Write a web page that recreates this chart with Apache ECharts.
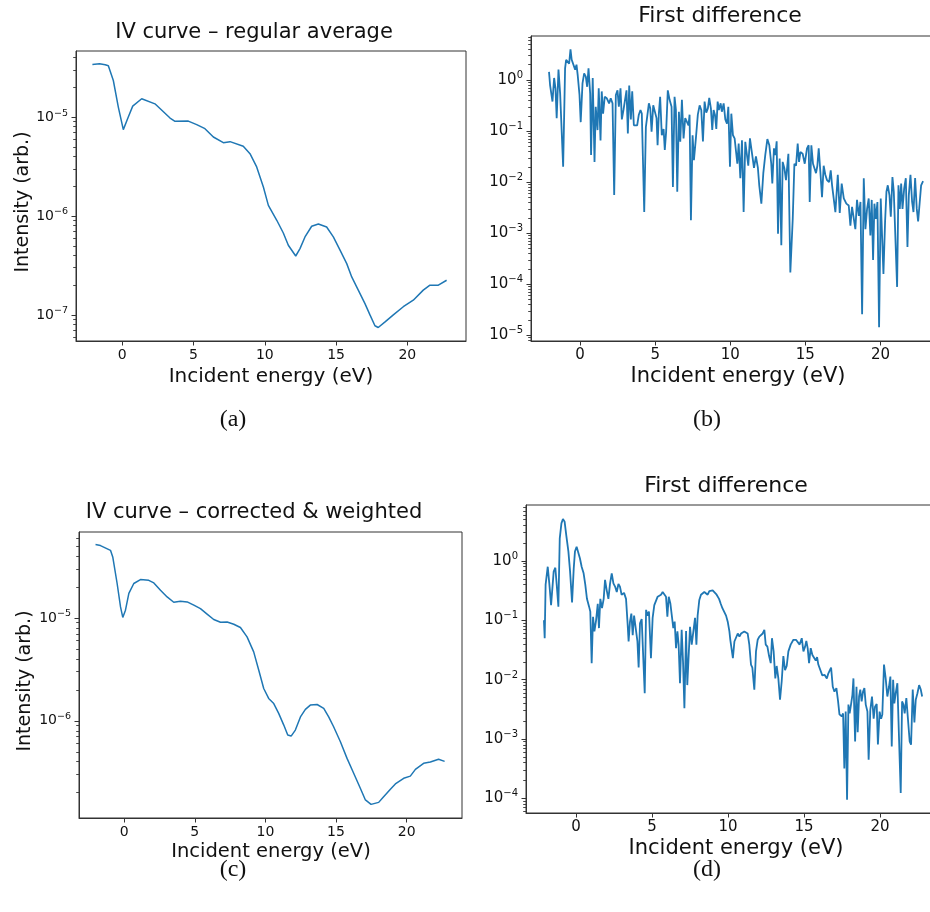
<!DOCTYPE html>
<html>
<head>
<meta charset="utf-8">
<script src="https://cdn.jsdelivr.net/npm/echarts@6/dist/echarts.min.js"></script>
<style>html,body{margin:0;padding:0;background:#fff;}#c{width:930px;height:912px;}</style>
</head>
<body>
<div id="c"></div>
<script>
// ---- Panel (a): IV curve – regular average ----
const energyA = [-2.10,-1.60,-1.20,-0.98,-0.63,-0.28,0.07,0.42,0.73,1.36,2.29,3.35,3.70,4.63,5.22,5.80,6.39,7.09,7.56,8.49,8.96,9.43,9.90,10.25,10.84,11.30,11.65,12.17,12.47,12.82,13.29,13.76,14.34,14.81,15.28,15.75,16.10,16.56,17.03,17.38,17.73,17.96,18.44,19.02,19.72,20.42,21.12,21.59,22.18,22.76];
const intensityA = [3.40e-5,3.45e-5,3.38e-5,3.30e-5,2.34e-5,1.26e-5,7.46e-6,1.0e-5,1.29e-5,1.53e-5,1.36e-5,9.77e-6,9.05e-6,9.1e-6,8.38e-6,7.63e-6,6.28e-6,5.51e-6,5.64e-6,5.06e-6,4.26e-6,3.13e-6,1.96e-6,1.28e-6,9.05e-7,6.73e-7,5.06e-7,3.94e-7,4.68e-7,6.14e-7,7.87e-7,8.30e-7,7.74e-7,6.14e-7,4.51e-7,3.30e-7,2.42e-7,1.78e-7,1.30e-7,1.0e-7,7.77e-8,7.46e-8,8.5e-8,1.0e-7,1.21e-7,1.41e-7,1.78e-7,2.0e-7,2.0e-7,2.24e-7];

// ---- Panel (b): First difference of (a) ----
const energyB = [-2.07,-2.00,-1.84,-1.73,-1.64,-1.56,-1.44,-1.33,-1.22,-1.13,-1.00,-0.93,-0.82,-0.73,-0.64,-0.56,-0.44,-0.33,-0.24,-0.16,-0.04,0.04,0.16,0.27,0.38,0.47,0.56,0.67,0.73,0.84,0.96,1.04,1.16,1.24,1.36,1.44,1.53,1.64,1.78,1.93,2.04,2.16,2.27,2.38,2.49,2.58,2.69,2.78,2.89,3.00,3.09,3.18,3.27,3.38,3.47,3.58,3.69,3.80,3.91,4.02,4.11,4.27,4.38,4.49,4.58,4.67,4.76,4.87,4.98,5.09,5.16,5.24,5.33,5.44,5.56,5.64,5.73,5.84,5.96,6.09,6.18,6.29,6.38,6.47,6.58,6.67,6.78,6.89,7.00,7.11,7.22,7.29,7.38,7.49,7.58,7.71,7.84,7.96,8.07,8.18,8.29,8.40,8.51,8.60,8.71,8.80,8.89,8.98,9.07,9.16,9.24,9.36,9.44,9.56,9.67,9.78,9.87,9.98,10.07,10.18,10.29,10.38,10.47,10.56,10.67,10.78,10.89,11.00,11.11,11.20,11.31,11.44,11.58,11.71,11.84,11.93,12.07,12.20,12.33,12.47,12.60,12.73,12.80,12.91,13.00,13.09,13.18,13.29,13.40,13.49,13.60,13.71,13.87,14.00,14.16,14.27,14.38,14.49,14.58,14.67,14.82,14.96,15.11,15.22,15.29,15.40,15.51,15.62,15.71,15.80,15.89,16.00,16.11,16.22,16.33,16.44,16.58,16.69,16.78,16.89,17.00,17.16,17.29,17.42,17.56,17.73,17.89,18.00,18.11,18.22,18.33,18.44,18.56,18.67,18.78,18.89,19.00,19.11,19.22,19.33,19.42,19.51,19.60,19.69,19.80,19.91,20.02,20.09,20.20,20.31,20.40,20.49,20.60,20.69,20.80,20.89,21.00,21.11,21.20,21.29,21.38,21.47,21.58,21.69,21.80,21.89,22.00,22.11,22.20,22.31,22.42,22.51,22.62,22.71,22.84];
const diffB = [1.45,0.80,0.38,1.1,0.69,0.18,1.6,0.55,0.52,0.020,1.7,2.5,2.6,2.1,4.0,2.5,2.6,1.6,2.0,1.25,0.51,0.15,0.86,1.35,1.17,0.74,1.7,0.55,0.034,1.1,0.025,0.30,0.105,0.69,0.066,0.60,0.22,0.47,0.44,0.35,0.44,0.35,0.0056,0.51,0.63,0.30,0.69,0.17,0.26,0.28,0.63,0.09,0.78,0.17,0.60,0.13,0.13,0.13,0.21,0.26,0.22,0.0026,0.12,0.12,0.35,0.28,0.098,0.32,0.35,0.18,0.053,0.21,0.47,0.083,0.11,0.043,0.098,0.63,0.41,0.30,0.0081,0.47,0.26,0.0065,0.24,0.062,0.41,0.072,0.18,0.19,0.13,0.21,0.0018,0.083,0.027,0.072,0.21,0.32,0.26,0.063,0.38,0.23,0.28,0.45,0.28,0.105,0.26,0.21,0.11,0.38,0.26,0.35,0.24,0.35,0.17,0.14,0.30,0.020,0.22,0.083,0.072,0.078,0.023,0.057,0.012,0.066,0.0026,0.062,0.066,0.021,0.072,0.070,0.019,0.032,0.019,0.0087,0.0038,0.015,0.034,0.070,0.053,0.023,0.0094,0.046,0.034,0.063,0.00098,0.029,0.00058,0.025,0.019,0.011,0.036,0.00017,0.0019,0.023,0.021,0.057,0.025,0.039,0.036,0.023,0.046,0.053,0.0041,0.053,0.023,0.023,0.015,0.021,0.046,0.016,0.0051,0.021,0.014,0.011,0.010,0.017,0.0087,0.0094,0.0026,0.014,0.0025,0.0094,0.0048,0.0038,0.0035,0.0014,0.0033,0.0035,0.0012,0.0045,0.0022,0.0041,0.000026,0.012,0.0012,0.0030,0.0048,0.00091,0.0045,0.00030,0.0038,0.0019,0.0041,0.0000145,0.0048,0.0048,0.00016,0.0017,0.0065,0.0087,0.0056,0.0021,0.0126,0.0065,0.0069,0.000089,0.0087,0.0030,0.0094,0.0030,0.0075,0.012,0.00054,0.0056,0.014,0.0041,0.0026,0.012,0.0030,0.0017,0.0018,0.0087,0.0105];

// ---- Panel (c): IV curve – corrected & weighted ----
const energyC = [-2.03,-1.68,-0.97,-0.81,-0.50,-0.26,-0.10,0.09,0.33,0.68,1.15,1.74,2.10,2.57,3.04,3.51,3.98,4.46,4.93,5.40,5.87,6.34,6.82,7.29,7.76,8.23,8.70,9.17,9.53,9.88,10.23,10.59,10.94,11.30,11.58,11.82,12.12,12.48,12.83,13.18,13.66,14.13,14.48,14.83,15.31,15.78,16.25,16.72,17.08,17.48,18.02,18.37,18.85,19.20,19.79,20.26,20.62,21.20,21.68,22.26,22.69];
const intensityC = [5.16e-5,5.05e-5,4.54e-5,3.91e-5,2.16e-5,1.28e-5,1.01e-5,1.19e-5,1.73e-5,2.16e-5,2.36e-5,2.32e-5,2.19e-5,1.86e-5,1.60e-5,1.42e-5,1.45e-5,1.43e-5,1.33e-5,1.23e-5,1.09e-5,9.65e-6,9.07e-6,9.14e-6,8.68e-6,8.07e-6,6.54e-6,4.68e-6,3.10e-6,2.06e-6,1.65e-6,1.47e-6,1.18e-6,9.08e-7,7.26e-7,7.1e-7,8.12e-7,1.09e-6,1.29e-6,1.42e-6,1.44e-6,1.32e-6,1.09e-6,8.75e-7,6.26e-7,4.31e-7,3.09e-7,2.21e-7,1.70e-7,1.54e-7,1.61e-7,1.83e-7,2.16e-7,2.43e-7,2.76e-7,2.9e-7,3.37e-7,3.86e-7,3.97e-7,4.22e-7,4.03e-7];

// ---- Panel (d): First difference of (c) ----
const energyD = [-2.11,-2.06,-2.00,-1.86,-1.75,-1.64,-1.56,-1.47,-1.36,-1.27,-1.16,-1.07,-0.96,-0.86,-0.75,-0.64,-0.50,-0.39,-0.26,-0.15,-0.07,0.04,0.15,0.26,0.37,0.50,0.61,0.72,0.86,0.94,1.03,1.12,1.21,1.32,1.43,1.51,1.60,1.71,1.82,1.91,2.02,2.13,2.24,2.35,2.46,2.57,2.68,2.79,2.89,3.00,3.16,3.29,3.40,3.46,3.55,3.64,3.73,3.82,3.93,4.04,4.12,4.21,4.32,4.43,4.52,4.61,4.71,4.80,4.93,5.04,5.15,5.26,5.37,5.48,5.59,5.70,5.81,5.92,6.01,6.10,6.21,6.32,6.40,6.49,6.58,6.67,6.75,6.84,6.95,7.04,7.13,7.24,7.32,7.41,7.50,7.61,7.72,7.83,7.92,8.00,8.11,8.22,8.33,8.44,8.55,8.66,8.77,8.88,8.99,9.10,9.25,9.41,9.52,9.63,9.74,9.87,9.98,10.09,10.15,10.24,10.32,10.42,10.53,10.64,10.75,10.86,10.96,11.07,11.18,11.29,11.40,11.51,11.60,11.67,11.73,11.84,11.95,12.06,12.17,12.28,12.39,12.48,12.59,12.70,12.81,12.89,13.00,13.11,13.20,13.31,13.42,13.53,13.64,13.75,13.86,13.97,14.12,14.30,14.47,14.58,14.71,14.85,14.96,15.07,15.15,15.24,15.33,15.44,15.55,15.66,15.77,15.86,15.94,16.05,16.20,16.36,16.50,16.60,16.78,16.89,17.00,17.13,17.24,17.33,17.48,17.57,17.65,17.74,17.83,17.92,18.00,18.09,18.18,18.25,18.36,18.45,18.53,18.62,18.70,18.79,18.88,18.97,19.06,19.17,19.25,19.36,19.47,19.58,19.67,19.78,19.86,19.97,20.07,20.15,20.26,20.37,20.48,20.59,20.68,20.77,20.86,20.94,21.03,21.14,21.25,21.36,21.45,21.54,21.62,21.73,21.84,21.95,22.04,22.15,22.26,22.35,22.46,22.57,22.68,22.77];
const diffD = [0.10,0.050,0.40,0.80,0.40,0.18,0.18,0.66,0.77,0.40,0.17,2.4,4.3,5.1,4.6,2.7,1.44,0.66,0.20,0.75,1.44,1.74,1.63,1.1,0.80,0.62,0.40,0.23,0.17,0.14,0.019,0.115,0.065,0.10,0.19,0.074,0.23,0.16,0.23,0.48,0.32,0.23,0.42,0.62,0.42,0.37,0.30,0.41,0.37,0.27,0.29,0.23,0.083,0.044,0.095,0.13,0.056,0.12,0.126,0.044,0.016,0.089,0.105,0.10,0.0059,0.15,0.12,0.14,0.023,0.11,0.18,0.17,0.25,0.27,0.27,0.30,0.30,0.25,0.115,0.25,0.19,0.11,0.074,0.095,0.034,0.065,0.039,0.0087,0.069,0.020,0.0033,0.066,0.0081,0.0081,0.078,0.039,0.065,0.11,0.039,0.12,0.22,0.27,0.26,0.30,0.32,0.27,0.31,0.30,0.32,0.30,0.27,0.23,0.19,0.16,0.15,0.12,0.095,0.065,0.047,0.050,0.023,0.044,0.047,0.060,0.053,0.060,0.058,0.065,0.062,0.060,0.039,0.018,0.016,0.016,0.0068,0.030,0.047,0.053,0.057,0.060,0.069,0.039,0.036,0.025,0.019,0.050,0.030,0.0105,0.017,0.0105,0.0046,0.0093,0.025,0.0145,0.017,0.030,0.039,0.047,0.047,0.044,0.039,0.050,0.030,0.036,0.045,0.034,0.019,0.034,0.026,0.028,0.021,0.024,0.018,0.017,0.0118,0.012,0.0105,0.0128,0.016,0.0076,0.0063,0.0072,0.0043,0.0026,0.0024,0.0027,0.00032,0.0029,0.000095,0.0038,0.0027,0.0038,0.0055,0.0105,0.00091,0.0076,0.0013,0.0052,0.0068,0.0043,0.0063,0.0072,0.0038,0.0029,0.00045,0.0031,0.0052,0.0022,0.0035,0.0039,0.00081,0.0029,0.0022,0.0026,0.018,0.0105,0.0052,0.0076,0.0113,0.00075,0.010,0.0040,0.0059,0.0087,0.0010,0.000123,0.0043,0.0038,0.0027,0.0049,0.0052,0.00091,0.00080,0.0068,0.0019,0.0046,0.0059,0.0081,0.0068,0.0052];

// ---- tick labels ----
const xTicks = [0, 5, 10, 15, 20];
const yTicksA = [1e-7, 1e-6, 1e-5];
const yTicksB = [1e-5, 1e-4, 1e-3, 1e-2, 1e-1, 1];
const yTicksC = [1e-6, 1e-5];
const yTicksD = [1e-4, 1e-3, 1e-2, 1e-1, 1];

// ---- text ----
const titles = ['IV curve \u2013 regular average', 'First difference', 'IV curve \u2013 corrected & weighted', 'First difference'];
const xName = 'Incident energy (eV)';
const yName = 'Intensity (arb.)';
const captions = ['(a)', '(b)', '(c)', '(d)'];

const zip = (xs, ys) => xs.map((x, i) => [x, ys[i]]);
const FONT = 'DejaVu Sans';
const BLUE = '#1f77b4';
const FRAME = '#333';

function supFormatter(v) {
  const e = Math.round(Math.log10(v));
  return '{b|10}{s|' + (e < 0 ? '\u2212' + (-e) : String(e)) + '}';
}
// minor log ticks (2..9 x 10^n) inside an axis range
function minorTicks(lo, hi) {
  const out = [];
  for (let d = Math.floor(Math.log10(lo)); d <= Math.ceil(Math.log10(hi)); d++) {
    for (let k = 2; k <= 9; k++) {
      const v = Number((k * Math.pow(10, d)).toPrecision(3));
      if (v > lo && v < hi) out.push(v);
    }
  }
  return out;
}

const panels = [
  {grid:{left:76, top:51, width:390, height:290}, xmin:-3.25, xmax:24.12, ymin:5.45e-8, ymax:4.65e-5, yt:yTicksA, fs:14, sfs:9.5, lw:1.5},
  {grid:{left:531, top:36, width:411, height:305}, xmin:-3.27, xmax:24.1, ymin:7.76e-6, ymax:7.3, yt:yTicksB, fs:15, sfs:10, lw:1.8},
  {grid:{left:79, top:532, width:383, height:286}, xmin:-3.2, xmax:23.92, ymin:1.135e-7, ymax:6.84e-5, yt:yTicksC, fs:14, sfs:9.5, lw:1.5},
  {grid:{left:526, top:505, width:415, height:308}, xmin:-3.29, xmax:24.01, ymin:5.67e-5, ymax:8.77, yt:yTicksD, fs:15, sfs:10, lw:1.8}
];
const seriesData = [zip(energyA, intensityA), zip(energyB, diffB), zip(energyC, intensityC), zip(energyD, diffD)];

const majorY = panels.map((p, i) => ({
  type:'log', logBase:10, gridIndex:i, position:'left', min:p.ymin, max:p.ymax,
  axisLine:{show:true, onZero:false, lineStyle:{color:FRAME, width:1}},
  axisTick:{show:true, inside:false, length:4.5, customValues:p.yt, lineStyle:{color:FRAME}},
  splitLine:{show:false},
  axisLabel:{show:true, margin:8, customValues:p.yt, formatter:supFormatter,
    rich:{
      b:{fontFamily:FONT, fontSize:p.fs, color:'#111', lineHeight:p.fs+4},
      s:{fontFamily:FONT, fontSize:p.sfs, color:'#111', verticalAlign:'top'}
    }}
}));
const minorY = panels.map((p, i) => ({
  type:'log', logBase:10, gridIndex:i, position:'left', offset:0, min:p.ymin, max:p.ymax,
  axisLine:{show:false, onZero:false},
  axisTick:{show:true, inside:false, length:2.8, customValues:minorTicks(p.ymin, p.ymax), lineStyle:{color:FRAME, width:0.9}},
  splitLine:{show:false},
  axisLabel:{show:false}
}));

const option = {
  animation: false,
  backgroundColor: '#fff',
  grid: panels.map(p => Object.assign({show:true, borderColor:FRAME, borderWidth:1, backgroundColor:'rgba(0,0,0,0)', containLabel:false, outerBoundsMode:'none'}, p.grid)),
  xAxis: panels.map((p, i) => ({
    type:'value', gridIndex:i, min:p.xmin, max:p.xmax,
    axisLine:{show:true, onZero:false, lineStyle:{color:FRAME, width:1}},
    axisTick:{show:true, inside:false, length:4.5, customValues:xTicks, lineStyle:{color:FRAME}},
    splitLine:{show:false},
    axisLabel:{show:true, customValues:xTicks, margin:7, color:'#111', fontFamily:FONT, fontSize:p.fs}
  })),
  yAxis: majorY.concat(minorY),
  series: seriesData.map((d, i) => ({
    type:'line', xAxisIndex:i, yAxisIndex:i, data:d, showSymbol:false, symbol:'none',
    lineStyle:{color:BLUE, width:panels[i].lw}, clip:true
  })),
  graphic: [
    {type:'text', x:254, y:33, style:{text:titles[0], font:'21px "DejaVu Sans"', fill:'#111', textAlign:'center', textVerticalAlign:'middle'}},
    {type:'text', x:720, y:16, style:{text:titles[1], font:'22px "DejaVu Sans"', fill:'#111', textAlign:'center', textVerticalAlign:'middle'}},
    {type:'text', x:254, y:513, style:{text:titles[2], font:'21px "DejaVu Sans"', fill:'#111', textAlign:'center', textVerticalAlign:'middle'}},
    {type:'text', x:726, y:486, style:{text:titles[3], font:'22px "DejaVu Sans"', fill:'#111', textAlign:'center', textVerticalAlign:'middle'}},
    {type:'text', x:271, y:377, style:{text:xName, font:'20px "DejaVu Sans"', fill:'#111', textAlign:'center', textVerticalAlign:'middle'}},
    {type:'text', x:738, y:377, style:{text:xName, font:'21px "DejaVu Sans"', fill:'#111', textAlign:'center', textVerticalAlign:'middle'}},
    {type:'text', x:271, y:852, style:{text:xName, font:'19.5px "DejaVu Sans"', fill:'#111', textAlign:'center', textVerticalAlign:'middle'}},
    {type:'text', x:736, y:849, style:{text:xName, font:'21px "DejaVu Sans"', fill:'#111', textAlign:'center', textVerticalAlign:'middle'}},
    {type:'text', x:23, y:202, rotation:Math.PI/2, style:{text:yName, font:'19px "DejaVu Sans"', fill:'#111', textAlign:'center', textVerticalAlign:'middle'}},
    {type:'text', x:25, y:681, rotation:Math.PI/2, style:{text:yName, font:'19px "DejaVu Sans"', fill:'#111', textAlign:'center', textVerticalAlign:'middle'}},
    {type:'text', x:233, y:420, style:{text:captions[0], font:'24px "Liberation Serif"', fill:'#111', textAlign:'center', textVerticalAlign:'middle'}},
    {type:'text', x:707, y:420, style:{text:captions[1], font:'24px "Liberation Serif"', fill:'#111', textAlign:'center', textVerticalAlign:'middle'}},
    {type:'text', x:233, y:870, style:{text:captions[2], font:'24px "Liberation Serif"', fill:'#111', textAlign:'center', textVerticalAlign:'middle'}},
    {type:'text', x:707, y:870, style:{text:captions[3], font:'24px "Liberation Serif"', fill:'#111', textAlign:'center', textVerticalAlign:'middle'}}
  ]
};
const chart = echarts.init(document.getElementById('c'), null, {renderer:'canvas'});
chart.setOption(option);
</script>
</body>
</html>
